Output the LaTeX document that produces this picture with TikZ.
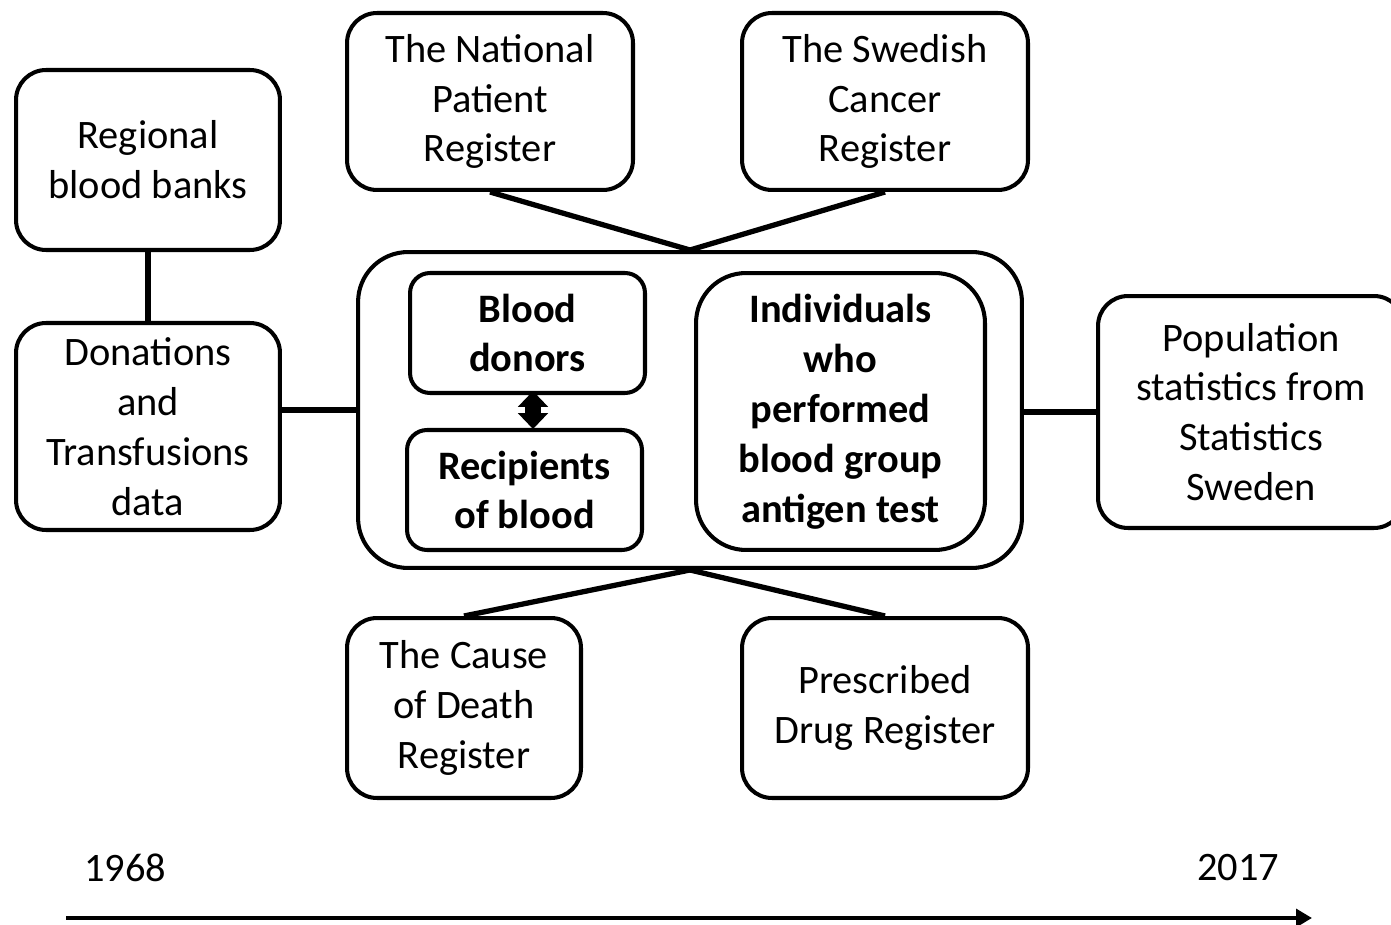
\documentclass[tikz,border=0pt]{standalone}
\usepackage{fontspec}
\setmainfont{Carlito}
\usepackage{tikz}
\usetikzlibrary{arrows.meta,positioning}

\begin{document}
\begin{tikzpicture}[
	%	style def
    x=0.02cm, y=-0.02cm,
    register/.style={draw, line width=2.3pt, rounded corners=0.6cm, align=center,
        font=\fontsize{23}{28.4}\selectfont, inner sep=0pt},
    cohort/.style={register, rounded corners=0.4cm, font=\fontsize{23}{28.4}\selectfont\bfseries},
    link line/.style={line width=3pt},
    every node/.style={color=black}
    ]
    \useasboundingbox (0,0) rectangle (1391,925);

	% left side
    \node[register, minimum width=5.28cm, minimum height=3.6cm] (banks) at (148,160) {Regional\\blood banks};
    \node[register, minimum width=5.28cm, minimum height=4.14cm] (donations) at (148,426.5) {Donations\\and\\Transfusions\\data};

	% registers on top
    \node[register, minimum width=5.72cm, minimum height=3.54cm] (patient) at (490,101.5) {The National\\Patient\\Register};
    \node[register, minimum width=5.72cm, minimum height=3.54cm] (cancer) at (885,101.5) {The Swedish\\Cancer\\Register};

	% study population in the middle
    \node[register, rounded corners=1cm, minimum width=13.28cm, minimum height=6.32cm] (cohorts) at (690,410) {};
    \node[cohort, minimum width=4.7cm, minimum height=2.4cm] (donors) at (527.5,333) {Blood\\donors};
    \node[cohort, minimum width=4.7cm, minimum height=2.4cm] (recipients) at (524.5,490) {Recipients\\of blood};
    \node[cohort, rounded corners=1cm, minimum width=5.78cm, minimum height=5.54cm] (tested) at (840.5,411.5) {Individuals\\who\\performed\\blood group\\antigen test};

	% right side, cut by the page edge
    \node[register, minimum width=6.12cm, minimum height=4.64cm] (population) at (1251,412) {Population\\statistics from\\Statistics\\Sweden};

	% registers below
    \node[register, minimum width=4.68cm, minimum height=3.6cm] (death) at (464,708) {The Cause\\of Death\\Register};
    \node[register, minimum width=5.72cm, minimum height=3.6cm] (drug) at (885,708) {Prescribed\\Drug Register};

	% connecting registers to cohorts
    \draw[link line] (banks) -- (donations);
    \draw[link line] (donations.east |- cohorts.west) -- (cohorts.west);
    \draw[link line] (cohorts.east |- population.west) -- (population.west);
    \draw[link line] (patient.south) -- (cohorts.north);
    \draw[link line] (cancer.south) -- (cohorts.north);
    \draw[link line] (death.north) -- (cohorts.south);
    \draw[link line] (drug.north) -- (cohorts.south);
    % donors <-> recipients
    \coordinate (d1) at ([xshift=0.11cm,yshift=0.08cm]donors.south);
    \coordinate (d2) at ([xshift=0.17cm,yshift=-0.02cm]recipients.north);
    \draw[line width=9pt, shorten <=8pt, shorten >=8pt] (d1) -- (d2);
    \draw[line width=1pt, {Triangle[length=9pt,width=17pt]}-{Triangle[length=9pt,width=17pt]}] (d1) -- (d2);

	% time axis
    \node[font=\fontsize{23}{28.4}\selectfont] (start) at (125,868) {1968};
    \node[font=\fontsize{23}{28.4}\selectfont] (end) at (1238,868) {2017};
    \coordinate (t0) at (66,918);
    \coordinate (t1) at (1312,918);
    \draw[line width=2.5pt, -{Triangle[length=9pt,width=10pt]}] (t0) -- (t1);
\end{tikzpicture}
\end{document}
